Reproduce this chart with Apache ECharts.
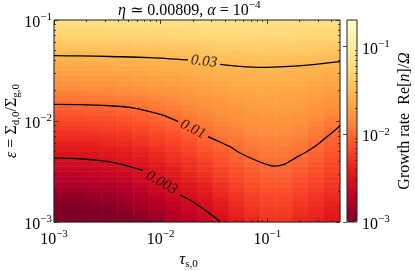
<!DOCTYPE html>
<html><head><meta charset="utf-8">
<script src="https://cdn.jsdelivr.net/npm/echarts@6/dist/echarts.min.js"></script>
<style>html,body{margin:0;padding:0;background:#fff}#c{width:415px;height:271px}</style>
</head><body><div id="c"></div>
<script>
// ---------------- data ----------------
const TAU_RANGE = [0.001, 0.48];
const EPS_RANGE = [0.001, 0.1];
const RATE_RANGE = [0.001, 0.2];
const tauMajorTicks = [1e-3, 1e-2, 1e-1];
const epsMajorTicks = [1e-3, 1e-2, 1e-1];
const rateMajorTicks = [1e-3, 1e-2, 1e-1];

// heatmap cell centres (log10 tau, log10 eps)
const tauCentersLog10 = [-2.926,-2.777,-2.628,-2.479,-2.330,-2.181,-2.032,-1.883,-1.734,-1.585,-1.436,-1.287,-1.138,-0.989,-0.840,-0.691,-0.542,-0.393];
const epsCentersLog10 = [-2.975,-2.925,-2.875,-2.825,-2.775,-2.725,-2.675,-2.625,-2.575,-2.525,-2.475,-2.425,-2.375,-2.325,-2.275,-2.225,-2.175,-2.125,-2.075,-2.025,
                         -1.975,-1.925,-1.875,-1.825,-1.775,-1.725,-1.675,-1.625,-1.575,-1.525,-1.475,-1.425,-1.375,-1.325,-1.275,-1.225,-1.175,-1.125,-1.075,-1.025];
// log10 growth rate: one array per tau column (left to right), values from bottom eps to top eps
const growthLog10ByTau = [
[-3.14,-3.09,-3.04,-2.99,-2.94,-2.89,-2.84,-2.79,-2.74,-2.69,-2.64,-2.59,-2.54,-2.49,-2.44,-2.39,-2.34,-2.29,-2.24,-2.19,-2.14,-2.10,-2.05,-2.00,-1.95,-1.90,-1.85,-1.80,-1.75,-1.70,-1.65,-1.60,-1.55,-1.50,-1.45,-1.40,-1.35,-1.30,-1.25,-1.20],
[-3.14,-3.09,-3.04,-2.99,-2.94,-2.89,-2.84,-2.79,-2.74,-2.69,-2.64,-2.59,-2.54,-2.49,-2.44,-2.39,-2.34,-2.29,-2.24,-2.19,-2.14,-2.10,-2.05,-2.00,-1.95,-1.90,-1.85,-1.80,-1.75,-1.70,-1.65,-1.60,-1.55,-1.50,-1.45,-1.40,-1.35,-1.30,-1.25,-1.20],
[-3.11,-3.06,-3.01,-2.96,-2.91,-2.86,-2.81,-2.76,-2.72,-2.67,-2.62,-2.57,-2.52,-2.47,-2.42,-2.38,-2.33,-2.28,-2.23,-2.18,-2.13,-2.08,-2.04,-1.99,-1.94,-1.89,-1.84,-1.79,-1.74,-1.69,-1.64,-1.59,-1.54,-1.49,-1.44,-1.40,-1.35,-1.30,-1.25,-1.20],
[-3.08,-3.03,-2.98,-2.93,-2.89,-2.84,-2.79,-2.75,-2.70,-2.65,-2.60,-2.56,-2.51,-2.46,-2.41,-2.36,-2.32,-2.27,-2.22,-2.17,-2.13,-2.08,-2.03,-1.98,-1.93,-1.88,-1.84,-1.79,-1.74,-1.69,-1.64,-1.59,-1.54,-1.49,-1.44,-1.39,-1.34,-1.29,-1.24,-1.19],
[-3.02,-2.97,-2.93,-2.88,-2.84,-2.80,-2.75,-2.71,-2.66,-2.62,-2.57,-2.53,-2.48,-2.43,-2.39,-2.34,-2.29,-2.25,-2.20,-2.15,-2.11,-2.06,-2.01,-1.97,-1.92,-1.87,-1.82,-1.78,-1.73,-1.68,-1.63,-1.58,-1.54,-1.49,-1.44,-1.39,-1.34,-1.29,-1.24,-1.19],
[-2.95,-2.91,-2.87,-2.82,-2.78,-2.74,-2.70,-2.65,-2.61,-2.57,-2.53,-2.48,-2.44,-2.39,-2.35,-2.30,-2.26,-2.21,-2.17,-2.12,-2.08,-2.04,-1.99,-1.94,-1.90,-1.85,-1.81,-1.76,-1.72,-1.67,-1.62,-1.58,-1.53,-1.48,-1.43,-1.38,-1.33,-1.28,-1.23,-1.18],
[-2.87,-2.83,-2.79,-2.75,-2.71,-2.67,-2.63,-2.59,-2.55,-2.51,-2.47,-2.42,-2.38,-2.34,-2.30,-2.25,-2.21,-2.17,-2.12,-2.08,-2.04,-2.00,-1.95,-1.91,-1.87,-1.82,-1.78,-1.74,-1.70,-1.65,-1.61,-1.57,-1.53,-1.48,-1.43,-1.38,-1.33,-1.28,-1.23,-1.18],
[-2.78,-2.74,-2.71,-2.67,-2.63,-2.59,-2.56,-2.52,-2.48,-2.44,-2.40,-2.36,-2.32,-2.28,-2.24,-2.20,-2.16,-2.12,-2.08,-2.04,-2.00,-1.96,-1.92,-1.88,-1.84,-1.80,-1.76,-1.72,-1.68,-1.64,-1.60,-1.56,-1.52,-1.47,-1.42,-1.37,-1.32,-1.27,-1.22,-1.17],
[-2.71,-2.68,-2.64,-2.60,-2.57,-2.53,-2.49,-2.45,-2.41,-2.37,-2.33,-2.30,-2.26,-2.22,-2.18,-2.14,-2.10,-2.06,-2.02,-1.99,-1.95,-1.91,-1.88,-1.84,-1.80,-1.77,-1.73,-1.69,-1.66,-1.62,-1.59,-1.55,-1.51,-1.46,-1.41,-1.36,-1.31,-1.26,-1.21,-1.16],
[-2.63,-2.60,-2.56,-2.53,-2.49,-2.45,-2.42,-2.38,-2.34,-2.30,-2.26,-2.23,-2.19,-2.15,-2.11,-2.07,-2.04,-2.00,-1.96,-1.93,-1.90,-1.87,-1.83,-1.80,-1.77,-1.73,-1.70,-1.67,-1.63,-1.60,-1.57,-1.53,-1.49,-1.44,-1.40,-1.35,-1.30,-1.25,-1.20,-1.15],
[-2.52,-2.49,-2.45,-2.42,-2.39,-2.35,-2.32,-2.29,-2.25,-2.22,-2.19,-2.15,-2.12,-2.09,-2.05,-2.02,-1.99,-1.95,-1.92,-1.89,-1.86,-1.83,-1.80,-1.77,-1.74,-1.71,-1.67,-1.64,-1.61,-1.58,-1.55,-1.52,-1.47,-1.42,-1.38,-1.33,-1.28,-1.24,-1.19,-1.14],
[-2.43,-2.39,-2.36,-2.33,-2.30,-2.27,-2.24,-2.21,-2.18,-2.15,-2.12,-2.09,-2.06,-2.03,-2.00,-1.97,-1.94,-1.91,-1.88,-1.85,-1.82,-1.80,-1.77,-1.74,-1.71,-1.68,-1.65,-1.62,-1.60,-1.57,-1.54,-1.50,-1.46,-1.42,-1.37,-1.33,-1.28,-1.24,-1.20,-1.15],
[-2.34,-2.31,-2.28,-2.25,-2.23,-2.20,-2.17,-2.14,-2.12,-2.09,-2.06,-2.03,-2.01,-1.98,-1.95,-1.93,-1.90,-1.87,-1.85,-1.82,-1.79,-1.77,-1.74,-1.72,-1.69,-1.66,-1.64,-1.61,-1.58,-1.56,-1.53,-1.49,-1.45,-1.41,-1.37,-1.33,-1.29,-1.24,-1.20,-1.16],
[-2.28,-2.25,-2.23,-2.20,-2.18,-2.15,-2.13,-2.10,-2.08,-2.05,-2.03,-2.00,-1.98,-1.95,-1.93,-1.90,-1.88,-1.85,-1.83,-1.80,-1.78,-1.75,-1.73,-1.70,-1.68,-1.65,-1.63,-1.60,-1.58,-1.55,-1.53,-1.49,-1.45,-1.41,-1.37,-1.33,-1.29,-1.25,-1.21,-1.17],
[-2.28,-2.25,-2.23,-2.20,-2.18,-2.15,-2.13,-2.10,-2.08,-2.05,-2.03,-2.00,-1.98,-1.95,-1.93,-1.90,-1.88,-1.85,-1.83,-1.80,-1.78,-1.76,-1.73,-1.71,-1.68,-1.66,-1.63,-1.61,-1.58,-1.56,-1.53,-1.50,-1.46,-1.42,-1.38,-1.33,-1.29,-1.25,-1.21,-1.17],
[-2.35,-2.32,-2.29,-2.26,-2.24,-2.21,-2.18,-2.15,-2.13,-2.10,-2.07,-2.04,-2.02,-1.99,-1.96,-1.94,-1.91,-1.88,-1.86,-1.83,-1.80,-1.78,-1.75,-1.72,-1.70,-1.67,-1.65,-1.62,-1.59,-1.57,-1.54,-1.51,-1.47,-1.42,-1.38,-1.34,-1.30,-1.26,-1.21,-1.17],
[-2.39,-2.36,-2.34,-2.31,-2.28,-2.26,-2.23,-2.20,-2.18,-2.15,-2.13,-2.10,-2.07,-2.05,-2.02,-2.00,-1.97,-1.94,-1.91,-1.88,-1.85,-1.82,-1.79,-1.76,-1.73,-1.70,-1.67,-1.64,-1.61,-1.58,-1.55,-1.52,-1.48,-1.43,-1.39,-1.35,-1.30,-1.26,-1.22,-1.17],
[-2.46,-2.43,-2.40,-2.38,-2.35,-2.32,-2.30,-2.27,-2.25,-2.22,-2.19,-2.17,-2.14,-2.11,-2.09,-2.06,-2.03,-2.01,-1.97,-1.94,-1.91,-1.87,-1.84,-1.80,-1.77,-1.74,-1.70,-1.67,-1.63,-1.60,-1.56,-1.53,-1.49,-1.45,-1.40,-1.36,-1.31,-1.27,-1.23,-1.18]
];

// contour lines [tau, eps], split where the labels sit
const contour003 = [
  [[0.001,0.00428],[0.00175,0.00423],[0.0027,0.00405],[0.00373,0.00384],[0.00515,0.00353],[0.00683,0.00324]],
  [[0.01518,0.00185],[0.01883,0.00165],[0.02336,0.00142],[0.02901,0.00121],[0.0362,0.001]]
];
const contour01 = [
  [[0.001,0.01462],[0.00175,0.01455],[0.00335,0.01416],[0.00515,0.01361],[0.00794,0.01236],[0.01098,0.01122],[0.01453,0.00984]],
  [[0.02778,0.0070],[0.036,0.0062],[0.04466,0.00557],[0.0554,0.00482],[0.0766,0.00411],[0.1014,0.00368],[0.1179,0.00358],
   [0.1462,0.00375],[0.1702,0.00411],[0.2023,0.00457],[0.2352,0.00499],[0.2797,0.00559],[0.3323,0.00649],[0.395,0.00752],[0.48,0.00892]]
];
const contour03 = [
  [[0.001,0.0443],[0.00175,0.0441],[0.00335,0.0435],[0.00794,0.0425],[0.01803,0.0402]],
  [[0.036,0.0364],[0.0554,0.0348],[0.091,0.0340],[0.1462,0.0346],[0.251,0.0360],[0.48,0.0387]]
];
const contourLevels = ['0.03', '0.01', '0.003'];
const contourLabelAt = [[0.02547, 0.0388], [0.0201, 0.0083], [0.01018, 0.00245]];

// ---------------- chart ----------------
const SERIF = '"Liberation Serif","DejaVu Serif",serif';
const YLORRD_R = ['#800026','#bd0026','#e31a1c','#fc4e2a','#fd8d3c','#feb24c','#fed976','#ffeda0','#ffffcc'];
const L = Math.log10;
const GRID = {left: 54, top: 20, width: 286, height: 202};
const CBAR = {left: 347, top: 20, width: 10, height: 202};

function minorsOf(majors, range) {
  const out = [];
  majors.forEach(d => { for (let m = 2; m <= 9; m++) { const v = d * m; if (v > range[0] * 1.0001 && v < range[1] * 0.9999) out.push(L(v)); } });
  return out;
}
const expLabel = v => '{b|10}{sup|−' + Math.abs(Math.round(v)) + '}';
const supRich = {
  b: {fontFamily: SERIF, fontSize: 16, lineHeight: 22, color: '#000'},
  sup: {fontFamily: SERIF, fontSize: 11, lineHeight: 12, verticalAlign: 'top', color: '#000'}
};
const tickStyle = {color: '#222', width: 0.8};

function tickAxis(gridIndex, position, range, values, len, extra) {
  return Object.assign({
    type: 'value', gridIndex, position, min: L(range[0]), max: L(range[1]), z: 10,
    axisLine: {show: false}, splitLine: {show: false}, axisLabel: {show: false},
    axisTick: {show: true, inside: true, length: len, lineStyle: tickStyle, customValues: values}
  }, extra || {});
}

const heatData = [];
growthLog10ByTau.forEach((col, c) => col.forEach((v, r) => heatData.push([c, r, Math.max(v, L(RATE_RANGE[0]))])));

const lineSeries = [];
[contour003, contour01, contour03].forEach(segs => segs.forEach(seg => lineSeries.push({
  type: 'line', xAxisIndex: 1, yAxisIndex: 1, data: seg, symbol: 'none', smooth: 0.3, z: 5,
  lineStyle: {color: '#000', width: 1.3}, silent: true
})));
const labelRot = [6, 27, 30];

const option = {
  animation: false,
  backgroundColor: '#fff',
  title: {
    text: '{i|η} ≃ 0.00809, {i|α} = 10{sup|−4}', left: 118, top: 0, padding: 0,
    textStyle: {fontFamily: SERIF, fontSize: 16, fontWeight: 'normal', color: '#000', lineHeight: 22,
      rich: {i: {fontFamily: SERIF, fontStyle: 'italic', fontSize: 16, lineHeight: 22},
             sup: {fontFamily: SERIF, fontSize: 11, lineHeight: 12, verticalAlign: 'top'}}}
  },
  grid: [
    Object.assign({show: false, outerBoundsMode: 'none'}, GRID),
    Object.assign({show: true, borderColor: '#222', borderWidth: 1, z: 10, backgroundColor: 'transparent', outerBoundsMode: 'none'}, GRID),
    Object.assign({show: true, borderColor: '#222', borderWidth: 1, z: 10, backgroundColor: 'transparent', outerBoundsMode: 'none'}, CBAR)
  ],
  visualMap: {
    type: 'continuous', seriesIndex: 0, dimension: 2, min: L(RATE_RANGE[0]), max: L(RATE_RANGE[1]),
    inRange: {color: YLORRD_R}, calculable: false, hoverLink: false, orient: 'vertical',
    left: CBAR.left, top: CBAR.top, itemWidth: CBAR.width, itemHeight: CBAR.height, padding: 0, text: null, show: true
  },
  xAxis: [
    {type: 'category', gridIndex: 0, data: tauCentersLog10, show: false},
    {type: 'log', gridIndex: 1, min: TAU_RANGE[0], max: TAU_RANGE[1], show: false},
    tickAxis(1, 'bottom', TAU_RANGE, tauMajorTicks.map(L), 4, {
      axisLabel: {show: true, customValues: tauMajorTicks.map(L), formatter: expLabel, rich: supRich, margin: 7},
      name: '{i|τ}{sub|s,0}', nameLocation: 'middle', nameGap: 28, nameMoveOverlap: false,
      nameTextStyle: {fontFamily: SERIF, fontSize: 16, color: '#000', padding: [0, 17, 0, 0],
        rich: {i: {fontFamily: SERIF, fontStyle: 'italic', fontSize: 17, lineHeight: 20},
               sub: {fontFamily: SERIF, fontSize: 11, lineHeight: 12, verticalAlign: 'bottom'}}}
    }),
    tickAxis(1, 'top', TAU_RANGE, tauMajorTicks.map(L), 4),
    tickAxis(1, 'bottom', TAU_RANGE, minorsOf(tauMajorTicks, TAU_RANGE), 2),
    tickAxis(1, 'top', TAU_RANGE, minorsOf(tauMajorTicks, TAU_RANGE), 2),
    {type: 'value', gridIndex: 2, min: 0, max: 1, show: false}
  ],
  yAxis: [
    {type: 'category', gridIndex: 0, data: epsCentersLog10, show: false},
    {type: 'log', gridIndex: 1, min: EPS_RANGE[0], max: EPS_RANGE[1], show: false},
    tickAxis(1, 'left', EPS_RANGE, epsMajorTicks.map(L), 4, {
      axisLabel: {show: true, customValues: epsMajorTicks.map(L), formatter: expLabel, rich: supRich, margin: 2, padding: [6, 0, 0, 0]},
      name: '{i|ε} = Σ{sub|d,0}/Σ{sub|g,0}', nameLocation: 'middle', nameRotate: 90, nameGap: 32, nameMoveOverlap: false,
      nameTextStyle: {fontFamily: SERIF, fontSize: 16, color: '#000',
        rich: {i: {fontFamily: SERIF, fontStyle: 'italic', fontSize: 16, lineHeight: 20},
               sub: {fontFamily: SERIF, fontSize: 11, lineHeight: 12, verticalAlign: 'bottom'}}}
    }),
    tickAxis(1, 'right', EPS_RANGE, epsMajorTicks.map(L), 4),
    tickAxis(1, 'left', EPS_RANGE, minorsOf(epsMajorTicks, EPS_RANGE), 2),
    tickAxis(1, 'right', EPS_RANGE, minorsOf(epsMajorTicks, EPS_RANGE), 2),
    tickAxis(2, 'right', RATE_RANGE, rateMajorTicks.map(L), 4, {
      axisLabel: {show: true, customValues: rateMajorTicks.map(L), formatter: expLabel, rich: supRich, margin: 5, padding: [6, 0, 0, 0]},
      name: 'Growth rate  Re[{i|n}]/{i|Ω}', nameLocation: 'middle', nameRotate: 90, nameGap: 40, nameMoveOverlap: false,
      nameTextStyle: {fontFamily: SERIF, fontSize: 16, color: '#000',
        rich: {i: {fontFamily: SERIF, fontStyle: 'italic', fontSize: 16}}}
    }),
    tickAxis(2, 'right', RATE_RANGE, minorsOf(rateMajorTicks, RATE_RANGE), 2)
  ],
  series: [
    {type: 'heatmap', xAxisIndex: 0, yAxisIndex: 0, data: heatData, itemStyle: {borderWidth: 0}, silent: true, progressive: 0},
    ...lineSeries,
    {type: 'scatter', xAxisIndex: 1, yAxisIndex: 1, symbolSize: 0, z: 6, silent: true,
     data: contourLabelAt.map((p, i) => ({value: p, name: contourLevels[i], label: {rotate: -labelRot[i]}})),
     label: {show: true, position: 'inside', formatter: p => p.name, fontFamily: SERIF, fontStyle: 'italic', fontSize: 15, color: '#000'}}
  ]
};
echarts.init(document.getElementById('c'), null, {renderer: 'canvas'}).setOption(option);
</script></body></html>
